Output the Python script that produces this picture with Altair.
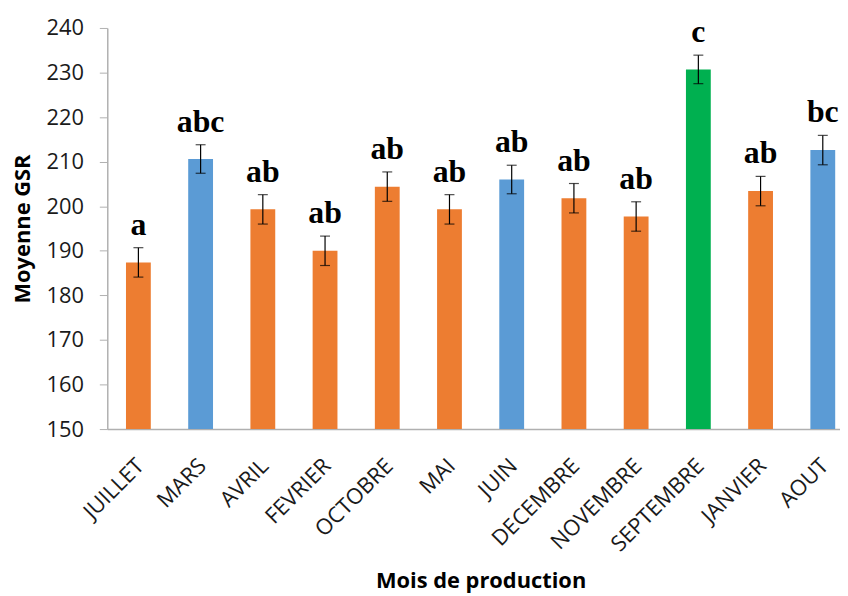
import altair as alt
import pandas as pd

mois = ["JUILLET", "MARS", "AVRIL", "FEVRIER", "OCTOBRE", "MAI", "JUIN",
        "DECEMBRE", "NOVEMBRE", "SEPTEMBRE", "JANVIER", "AOUT"]
moyenne = [187.4, 210.6, 199.3, 190.0, 204.4, 199.3, 206.0, 201.8, 197.7, 230.7, 203.4, 212.6]
erreur = [3.3, 3.2, 3.3, 3.3, 3.3, 3.3, 3.2, 3.3, 3.3, 3.2, 3.3, 3.3]
lettres = ["a", "abc", "ab", "ab", "ab", "ab", "ab", "ab", "ab", "c", "ab", "bc"]
groupe = ["orange", "bleu", "orange", "orange", "orange", "orange", "bleu",
          "orange", "orange", "vert", "orange", "bleu"]

df = pd.DataFrame({
    "mois": mois,
    "moyenne": moyenne,
    "err": erreur,
    "lettre": lettres,
    "groupe": groupe,
})
df["bas"] = df["moyenne"] - df["err"]
df["haut"] = df["moyenne"] + df["err"]

x_scale = alt.Scale(paddingInner=0, paddingOuter=0, range=[0, 752])

x = alt.X("mois:N", sort=mois, title="Mois de production", scale=x_scale,
          axis=alt.Axis(labelAngle=-45, labelAlign="right", labelBaseline="top",
                        labelFontSize=22, labelFont="Open Sans", labelColor="#1a1a1a",
                        labelPadding=26, labelOffset=-5, ticks=False,
                        domainColor="#B0B0B0", domainWidth=1.5,
                        titleFontSize=22, titleFont="Open Sans", titleFontWeight="bold",
                        titleColor="#000000", titleBaseline="alphabetic",
                        titleX=376, titleY=160))

y_scale = alt.Scale(domain=[150, 240], nice=False, zero=False)

bars = alt.Chart(df).mark_bar(size=25).encode(
    x=x,
    y=alt.Y("moyenne:Q", scale=y_scale, title="Moyenne GSR",
            axis=alt.Axis(values=list(range(150, 241, 10)), grid=False,
                          labelFontSize=22, labelFont="Open Sans", labelColor="#1a1a1a",
                          tickColor="#B0B0B0", tickSize=8, domainColor="#B0B0B0",
                          domainWidth=1.5, labelPadding=16,
                          titleFontSize=22, titleFont="Open Sans", titleFontWeight="bold",
                          titleColor="#000000", titlePadding=12)),
    y2=alt.datum(150),
    color=alt.Color("groupe:N", legend=None,
                    scale=alt.Scale(domain=["orange", "bleu", "vert"],
                                    range=["#ED7D31", "#5B9BD5", "#00B050"])),
)

rule = alt.Chart(df).mark_rule(color="#000000", strokeWidth=1.2).encode(
    x=alt.X("mois:N", sort=mois, scale=x_scale), y="bas:Q", y2="haut:Q")

cap_top = alt.Chart(df).mark_tick(color="#000000", size=10, thickness=1.2).encode(
    x=alt.X("mois:N", sort=mois, scale=x_scale), y="haut:Q")
cap_bot = alt.Chart(df).mark_tick(color="#000000", size=10, thickness=1.2).encode(
    x=alt.X("mois:N", sort=mois, scale=x_scale), y="bas:Q")

text = alt.Chart(df).mark_text(font="Liberation Serif", fontSize=32, fontWeight="bold",
                               baseline="bottom", dy=-6, color="#000000").encode(
    x=alt.X("mois:N", sort=mois, scale=x_scale), y="haut:Q", text="lettre:N")

chart = alt.layer(bars, rule, cap_top, cap_bot, text).properties(
    width=738, height=404,
    autosize=alt.AutoSizeParams(type="none"),
    padding={"left": 100, "top": 18, "right": 0, "bottom": 164},
).configure_view(stroke=None)

chart.save("out.html", embed_options={"renderer": "svg", "actions": False})
